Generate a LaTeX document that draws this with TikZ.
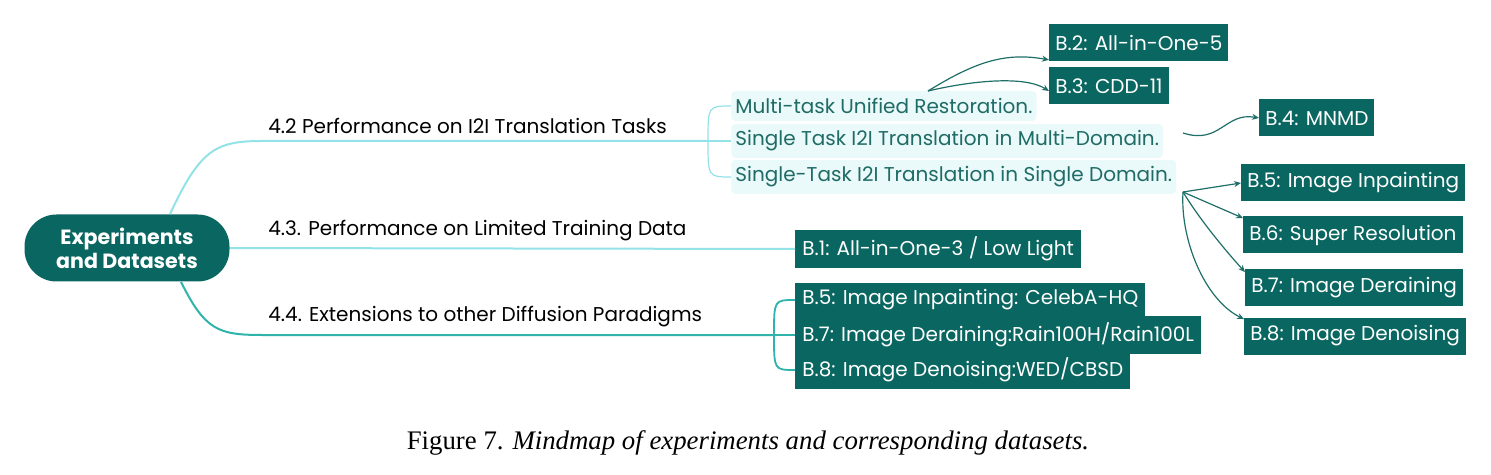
\documentclass[tikz,border=0pt]{standalone}
\usepackage{fontspec}
\setmainfont{Liberation Serif}
\newfontfamily\mapfont{Poppins}
\usetikzlibrary{arrows.meta}
\definecolor{dk}{HTML}{0A6660}
\definecolor{lline}{HTML}{92E2E8}
\definecolor{tline}{HTML}{2FB3AA}
\definecolor{lfill}{HTML}{EAF9FA}
\definecolor{ltext}{HTML}{1F6B66}
\definecolor{ac}{HTML}{1F6E68}
\tikzset{
  mapfnt/.style={font=\mapfont\fontsize{10}{12}\selectfont},
  dbox/.style={mapfnt,fill=dk,text=white,anchor=west,inner xsep=3pt,minimum height=18.5pt},
  mbox/.style={dbox,minimum height=15.5pt,inner xsep=3.5pt},
  lbox/.style={mapfnt,fill=lfill,text=ltext,anchor=west,inner xsep=2pt,minimum height=15pt,rounded corners=2pt},
  blabel/.style={mapfnt,anchor=south west,inner sep=1pt},
  arr/.style={draw=ac,line width=0.6pt,-{Stealth[length=3.5pt,width=3pt]}},
}
\begin{document}
\begin{tikzpicture}[x=0.5pt,y=-0.5pt]
\useasboundingbox (0,0) rectangle (1491,475);
% root
\node[fill=dk,text=white,rounded corners=16pt,minimum width=102.5pt,minimum height=33.5pt,align=center,
  font=\mapfont\bfseries\fontsize{10.3}{12}\selectfont] (root) at (127,248) {Experiments\\and Datasets};
% branch labels
\node[blabel] (t42) at (266,136) {4.2 Performance on I2I Translation Tasks};
\node[blabel] (t43) at (266,243) {4.3. Performance on Limited Training Data};
\node[blabel] (t44) at (266,329) {4.4. Extensions to other Diffusion Paradigms};
% 4.2 children
\node[lbox] (m1) at (731,106) {Multi-task Unified Restoration.};
\node[lbox] (m2) at (731,141) {Single Task I2I Translation in Multi-Domain.};
\node[lbox] (m3) at (731,177) {Single-Task I2I Translation in Single Domain.};
% datasets
\node[dbox] (b2) at (1049,43) {B.2: All-in-One-5};
\node[dbox] (b3) at (1049,86) {B.3: CDD-11};
\node[dbox] (b4) at (1259,118) {B.4: MNMD};
\node[dbox] (b5) at (1241,183) {B.5: Image Inpainting};
\node[dbox] (b6) at (1243,235) {B.6: Super Resolution};
\node[dbox] (b7) at (1245,288) {B.7: Image Deraining};
\node[dbox] (b8) at (1244,336) {B.8: Image Denoising};
\node[mbox] (b1) at (795,249) {B.1: All-in-One-3 / Low Light};
\node[mbox] (c5) at (795,300) {B.5: Image Inpainting: CelebA-HQ};
\node[mbox] (c7) at (795,335) {B.7: Image Deraining:Rain100H/Rain100L};
\node[mbox] (c8) at (795,370) {B.8: Image Denoising:WED/CBSD};
% branch points
\coordinate (k42) at (708,141);
\coordinate (k44) at (774,335);
\coordinate (s1) at (928,91);
\coordinate (s2) at (1183,192);
\coordinate (s3) at (1183,133);
% main branches
\draw[lline,line width=1pt] ([xshift=21.5pt]root.north) .. controls (200,150) and (215,141) .. (262,141) -- (k42);
\draw[lline,line width=1pt] (root.east) -- (b1.west);
\draw[tline,line width=1pt] ([xshift=27pt]root.south) .. controls (205,330) and (218,335) .. (262,335) -- (k44);
% brackets
\draw[lline,line width=0.6pt] (k42) .. controls (708,106) .. (m1.west);
\draw[lline,line width=0.6pt] (k42) -- (m2.west);
\draw[lline,line width=0.6pt] (k42) .. controls (708,177) .. (m3.west);
\draw[tline,line width=0.9pt] (k44) .. controls (774,300) .. (c5.west);
\draw[tline,line width=0.9pt] (k44) -- (c7.west);
\draw[tline,line width=0.9pt] (k44) .. controls (774,370) .. (c8.west);
% arrows
\draw[arr] (s1) .. controls (975,62) and (1005,52) .. ([yshift=1pt]b2.south west);
\draw[arr] (s1) .. controls (975,80) and (1025,76) .. ([yshift=-2.5pt]b3.west);
\draw[arr] (s3) .. controls (1220,145) and (1225,112) .. (b4.west);
\draw[arr] (s2) -- (b5.west);
\draw[arr] (s2) -- ([yshift=-1pt]b6.north west);
\draw[arr] (s2) .. controls (1200,220) and (1225,250) .. ([yshift=-1.5pt]b7.north west);
\draw[arr] (s2) .. controls (1180,240) and (1205,300) .. ([yshift=-1pt]b8.north west);
% caption
\node[font=\fontsize{13.4}{15}\selectfont] (cap) at (748,443) {Figure 7. \textit{Mindmap of experiments and corresponding datasets.}};
\end{tikzpicture}
\end{document}
